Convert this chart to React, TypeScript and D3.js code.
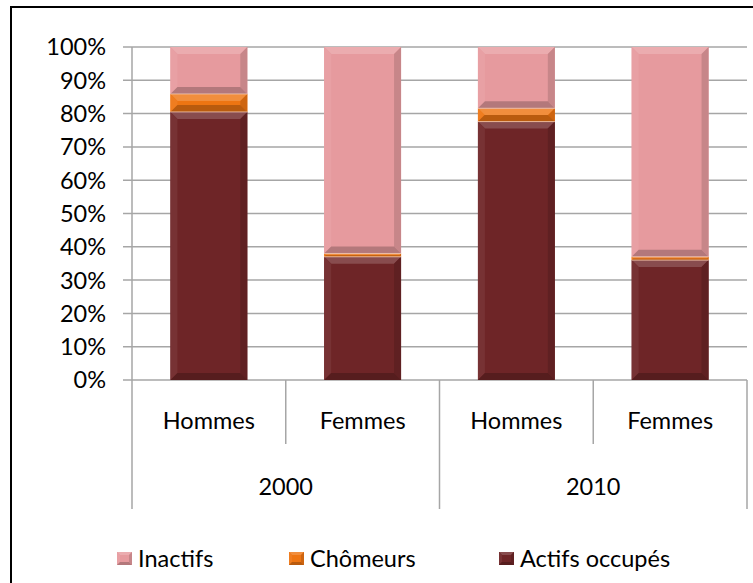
import React from "react";
import * as d3 from "d3";

const years = ["2000", "2010"];
const categories = ["Hommes", "Femmes", "Hommes", "Femmes"];
const actifs = [80.5, 37.0, 77.6, 36.0];
const chomeurs = [5.4, 1.0, 4.0, 1.0];
const inactifs = [14.1, 62.0, 18.4, 63.0];
const seriesNames = ["Actifs occupés", "Chômeurs", "Inactifs"];
const seriesColors = ["#6E2527", "#EE7512", "#E69A9E"];
const yTicks = [0, 10, 20, 30, 40, 50, 60, 70, 80, 90, 100];
const legendOrder = [2, 1, 0];

const W = 753;
const H = 583;
const left = 132;
const right = 747;
const top = 47;
const bottom = 380;
const FONT = "Lato, 'Open Sans', sans-serif";
const FS = 23.5;

function Bevel({ x, y, w, h, color, b0 }: any) {
  const b = Math.max(0, Math.min(b0, h / 2, w / 2));
  const c = d3.color(color)!;
  const light = d3.interpolateRgb(color, "#ffffff")(0.18);
  const lightS = d3.interpolateRgb(color, "#ffffff")(0.06);
  const dark = c.darker(0.7).formatHex();
  const darkS = c.darker(0.4).formatHex();
  const pts = (p: number[][]) => p.map((q) => q.join(",")).join(" ");
  return (
    <g>
      <rect x={x} y={y} width={w} height={h} fill={color} />
      <polygon points={pts([[x, y], [x + w, y], [x + w - b, y + b], [x + b, y + b]])} fill={light} />
      <polygon points={pts([[x, y], [x + b, y + b], [x + b, y + h - b], [x, y + h]])} fill={lightS} />
      <polygon points={pts([[x + w, y], [x + w - b, y + b], [x + w - b, y + h - b], [x + w, y + h]])} fill={darkS} />
      <polygon points={pts([[x, y + h], [x + w, y + h], [x + w - b, y + h - b], [x + b, y + h - b]])} fill={dark} />
    </g>
  );
}

export default function App() {
  const x = d3.scaleBand<number>().domain(d3.range(categories.length)).range([left, right]).paddingInner(0).paddingOuter(0);
  const y = d3.scaleLinear().domain([0, 100]).range([bottom, top]);
  const bw = x.bandwidth() * 0.5;
  const values = [actifs, chomeurs, inactifs];
  const grid = "#A6A6A6";

  const segs: any[] = [];
  categories.forEach((_, i) => {
    let acc = 0;
    values.forEach((vals, s) => {
      const v = vals[i];
      const y0 = y(acc);
      const y1 = y(acc + v);
      acc += v;
      segs.push({ i, s, x: x(i)! + (x.bandwidth() - bw) / 2, y: y1, h: y0 - y1 });
    });
  });

  const legendX = [117, 289, 499];

  return (
    <svg width={W} height={H} style={{ position: "absolute", left: 0, top: 0 }} fontFamily={FONT}>
      <rect x={0} y={0} width={W} height={H} fill="#fff" />
      <rect x={11} y={7} width={900} height={900} fill="none" stroke="#000" strokeWidth={2} />
      {yTicks.map((t) => (
        <g key={t}>
          <line x1={123} x2={right} y1={y(t)} y2={y(t)} stroke={grid} strokeWidth={1.5} />
          <text x={106} y={y(t)} dy="0.36em" textAnchor="end" fontSize={FS} fill="#000">
            {t}%
          </text>
        </g>
      ))}
      <line x1={left} x2={left} y1={top} y2={509} stroke={grid} strokeWidth={1.5} />
      {categories.map((c, i) => {
        const xr = x(i)! + x.bandwidth();
        const isGroupEnd = i % 2 === 1;
        return (
          <g key={i}>
            <line x1={xr} x2={xr} y1={bottom} y2={isGroupEnd ? 509 : 444} stroke={grid} strokeWidth={1.5} />
            <text x={x(i)! + x.bandwidth() / 2} y={421} dy="0.36em" textAnchor="middle" fontSize={FS} fill="#000">
              {c}
            </text>
          </g>
        );
      })}
      {years.map((yr, g) => (
        <text key={yr} x={x(g * 2)! + x.bandwidth()} y={487} dy="0.36em" textAnchor="middle" fontSize={FS} fill="#000">
          {yr}
        </text>
      ))}
      {segs.map((d, k) => (
        <Bevel key={k} x={d.x} y={d.y} w={bw} h={d.h} color={seriesColors[d.s]} b0={7} />
      ))}
      {segs
        .filter((d) => d.s > 0)
        .map((d, k) => (
          <line key={"sep" + k} x1={d.x} x2={d.x + bw} y1={d.y + d.h} y2={d.y + d.h} stroke="#F3C9B5" strokeWidth={1} opacity={0.8} />
        ))}
      {legendOrder.map((s, k) => (
        <g key={s}>
          <Bevel x={legendX[k]} y={552} w={15} h={13} color={seriesColors[s]} b0={3} />
          <text x={legendX[k] + 21} y={558.5} dy="0.36em" fontSize={FS} fill="#000">
            {seriesNames[s]}
          </text>
        </g>
      ))}
    </svg>
  );
}
